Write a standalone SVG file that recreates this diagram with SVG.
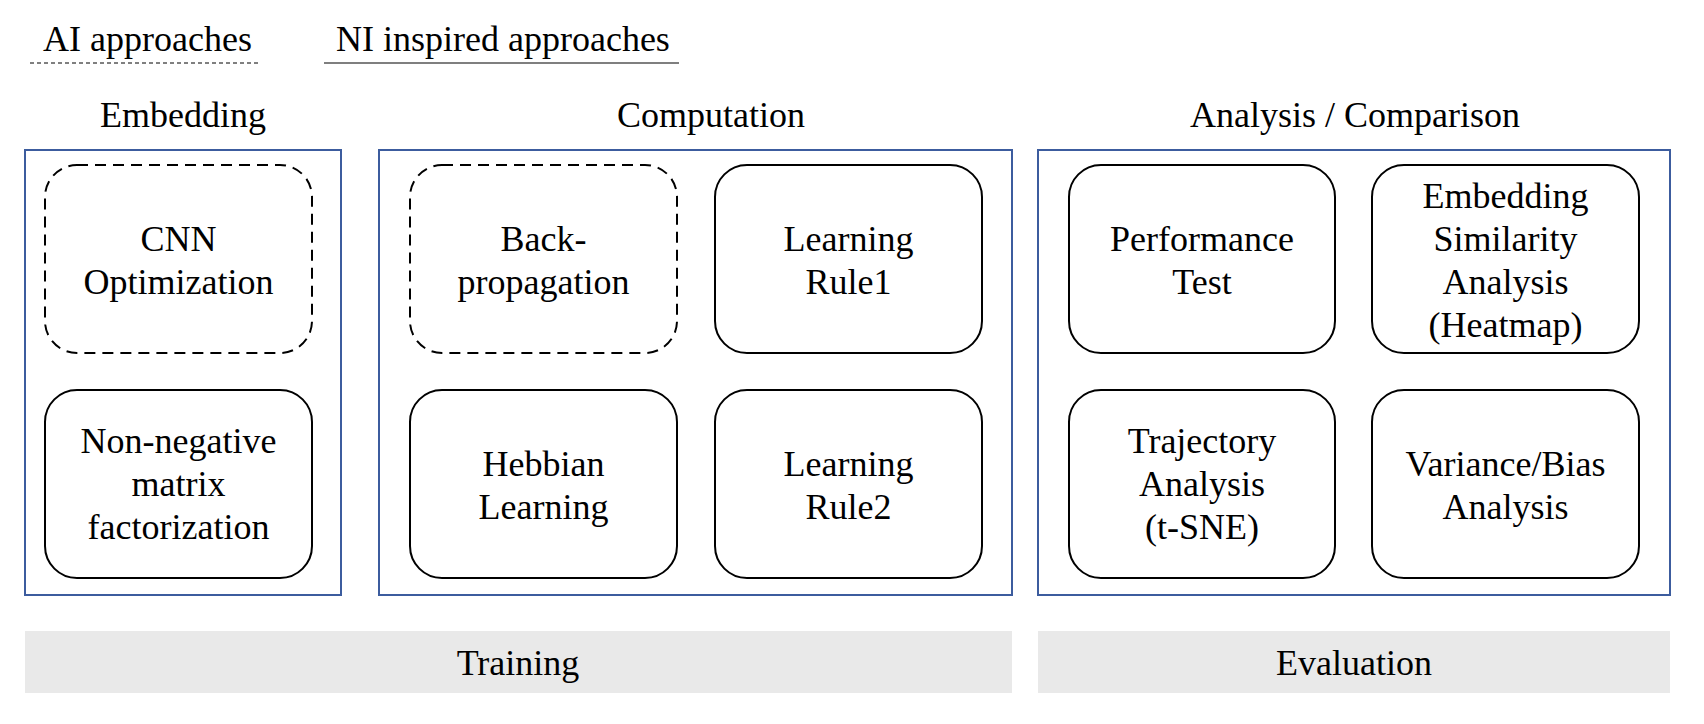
<svg xmlns="http://www.w3.org/2000/svg" width="1704" height="724" viewBox="0 0 1704 724" font-family="'Liberation Serif', 'Times New Roman', Times, 'DejaVu Serif', serif">
<style>
text{font-family:'Liberation Serif','Times New Roman',Times,'DejaVu Serif',serif;font-size:36px;fill:#000;text-anchor:middle}
.legend{text-anchor:start}
.panel{fill:none;stroke:#3c5c9e;stroke-width:2}
.node{fill:#fff;stroke:#000;stroke-width:2}
.dash{stroke-dasharray:11 7}
.bar{fill:#e9e9e9}
</style>
<rect width="1704" height="724" fill="#fff"/>
<g id="legend">
<text class="legend" x="43" y="51">AI approaches</text>
<line x1="30" y1="63" x2="259" y2="63" stroke="#000" stroke-width="1" stroke-dasharray="4 3"/>
<text class="legend" x="336" y="51">NI inspired approaches</text>
<line x1="324" y1="63" x2="679" y2="63" stroke="#000" stroke-width="1.2"/>
</g>
<g id="headers">
<text x="183" y="127">Embedding</text>
<text x="711" y="127">Computation</text>
<text x="1355" y="127">Analysis / Comparison</text>
</g>
<g id="panels">
<rect id="panel-embedding" class="panel" x="25" y="150" width="316" height="445"/>
<rect id="panel-computation" class="panel" x="379" y="150" width="633" height="445"/>
<rect id="panel-analysis" class="panel" x="1038" y="150" width="632" height="445"/>
</g>
<g id="cnn">
<rect class="node dash" x="45" y="165" width="267" height="188" rx="32"/>
<text x="178.5" y="251">CNN</text>
<text x="178.5" y="294">Optimization</text>
</g>
<g id="nmf">
<rect class="node" x="45" y="390" width="267" height="188" rx="32"/>
<text x="178.5" y="453">Non-negative</text>
<text x="178.5" y="496">matrix</text>
<text x="178.5" y="539">factorization</text>
</g>
<g id="backprop">
<rect class="node dash" x="410" y="165" width="267" height="188" rx="32"/>
<text x="543.5" y="251">Back-</text>
<text x="543.5" y="294">propagation</text>
</g>
<g id="rule1">
<rect class="node" x="715" y="165" width="267" height="188" rx="32"/>
<text x="848.5" y="251">Learning</text>
<text x="848.5" y="294">Rule1</text>
</g>
<g id="hebbian">
<rect class="node" x="410" y="390" width="267" height="188" rx="32"/>
<text x="543.5" y="476">Hebbian</text>
<text x="543.5" y="519">Learning</text>
</g>
<g id="rule2">
<rect class="node" x="715" y="390" width="267" height="188" rx="32"/>
<text x="848.5" y="476">Learning</text>
<text x="848.5" y="519">Rule2</text>
</g>
<g id="performance">
<rect class="node" x="1069" y="165" width="266" height="188" rx="32"/>
<text x="1202" y="251">Performance</text>
<text x="1202" y="294">Test</text>
</g>
<g id="similarity">
<rect class="node" x="1372" y="165" width="267" height="188" rx="32"/>
<text x="1505.5" y="208">Embedding</text>
<text x="1505.5" y="251">Similarity</text>
<text x="1505.5" y="294">Analysis</text>
<text x="1505.5" y="337">(Heatmap)</text>
</g>
<g id="trajectory">
<rect class="node" x="1069" y="390" width="266" height="188" rx="32"/>
<text x="1202" y="453">Trajectory</text>
<text x="1202" y="496">Analysis</text>
<text x="1202" y="539">(t-SNE)</text>
</g>
<g id="variance">
<rect class="node" x="1372" y="390" width="267" height="188" rx="32"/>
<text x="1505.5" y="476">Variance/Bias</text>
<text x="1505.5" y="519">Analysis</text>
</g>
<g id="training">
<rect class="bar" x="25" y="631" width="987" height="62"/>
<text x="518" y="675">Training</text>
</g>
<g id="evaluation">
<rect class="bar" x="1038" y="631" width="632" height="62"/>
<text x="1354" y="675">Evaluation</text>
</g>
<g id="connectors"></g>
</svg>
